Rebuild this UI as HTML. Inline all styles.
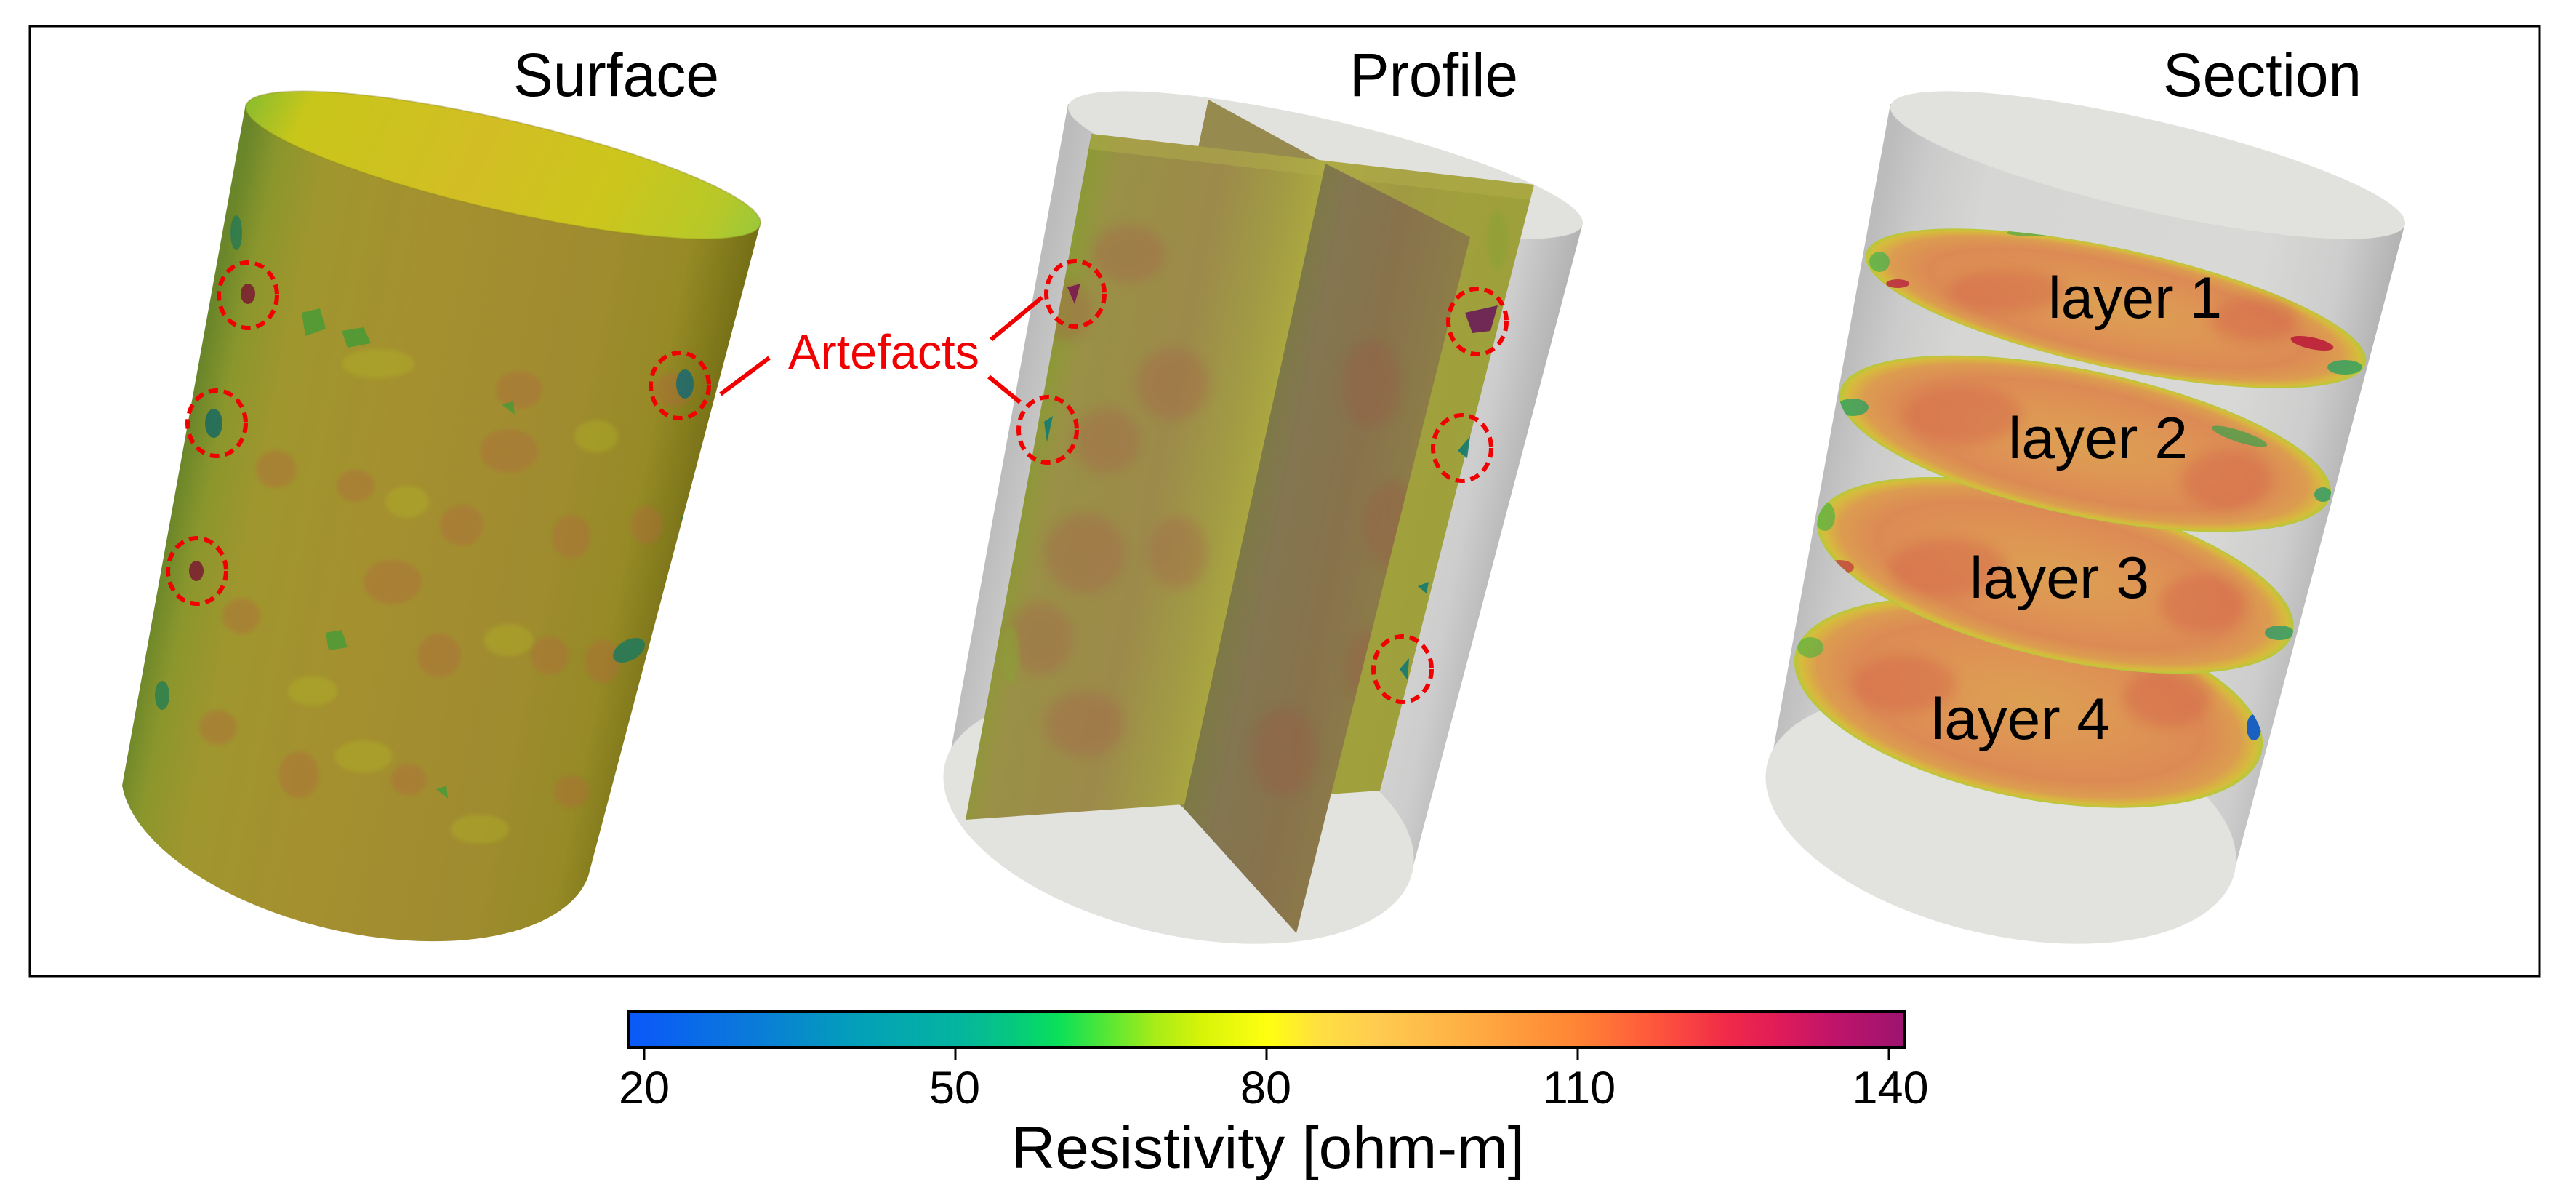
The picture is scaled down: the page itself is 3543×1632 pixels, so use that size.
<!DOCTYPE html>
<html><head><meta charset="utf-8"><style>
html,body{margin:0;padding:0;background:#fff;}
svg{display:block;}
text{font-family:"Liberation Sans",Arial,sans-serif;}
</style></head><body>
<svg width="3543" height="1632" viewBox="0 0 3543 1632" xmlns="http://www.w3.org/2000/svg">
<defs>
  <linearGradient id="gBody" gradientUnits="userSpaceOnUse" x1="246" y1="650" x2="941" y2="793">
    <stop offset="0" stop-color="#6a862a"/>
    <stop offset="0.06" stop-color="#8a962c"/>
    <stop offset="0.16" stop-color="#a0962e"/>
    <stop offset="0.4" stop-color="#a4902f"/>
    <stop offset="0.7" stop-color="#a08c30"/>
    <stop offset="0.88" stop-color="#968a26"/>
    <stop offset="1" stop-color="#767016"/>
  </linearGradient>
  <linearGradient id="gTop" gradientUnits="userSpaceOnUse" x1="338" y1="143" x2="1046" y2="307">
    <stop offset="0" stop-color="#84bc30"/>
    <stop offset="0.12" stop-color="#c8c61a"/>
    <stop offset="0.45" stop-color="#d2be24"/>
    <stop offset="0.7" stop-color="#ccc61c"/>
    <stop offset="0.9" stop-color="#b8c828"/>
    <stop offset="1" stop-color="#98c83c"/>
  </linearGradient>
  <linearGradient id="gGray" gradientUnits="userSpaceOnUse" x1="246" y1="650" x2="941" y2="793">
    <stop offset="0" stop-color="#bcbcbc"/>
    <stop offset="0.08" stop-color="#cbcbcb"/>
    <stop offset="0.2" stop-color="#d6d6d4"/>
    <stop offset="0.75" stop-color="#d8d8d6"/>
    <stop offset="0.9" stop-color="#cdcdcd"/>
    <stop offset="1" stop-color="#b4b4b4"/>
  </linearGradient>
  <linearGradient id="gPlaneA" gradientUnits="userSpaceOnUse" x1="1415" y1="655" x2="2100" y2="796">
    <stop offset="0" stop-color="#8e9838"/>
    <stop offset="0.05" stop-color="#9a9046"/>
    <stop offset="0.25" stop-color="#9c8a4a"/>
    <stop offset="0.38" stop-color="#a29c44"/>
    <stop offset="0.44" stop-color="#aaa640"/>
    <stop offset="0.6" stop-color="#a09a42"/>
    <stop offset="0.73" stop-color="#a0a03c"/>
    <stop offset="1" stop-color="#9ca23a"/>
  </linearGradient>
  <linearGradient id="gPlaneB" gradientUnits="userSpaceOnUse" x1="1415" y1="655" x2="2100" y2="796">
    <stop offset="0.42" stop-color="#7c7a44"/>
    <stop offset="0.5" stop-color="#837650"/>
    <stop offset="0.62" stop-color="#88724c"/>
    <stop offset="0.74" stop-color="#8c7c48"/>
  </linearGradient>
  <radialGradient id="gDisk" cx="0.5" cy="0.5" r="0.5">
    <stop offset="0" stop-color="#dca052"/>
    <stop offset="0.45" stop-color="#de9454"/>
    <stop offset="0.75" stop-color="#dc8a54"/>
    <stop offset="0.9" stop-color="#dc9c50"/>
    <stop offset="0.97" stop-color="#d6bc3c"/>
    <stop offset="1" stop-color="#b6c83a"/>
  </radialGradient>
  <linearGradient id="gBar" x1="0" y1="0" x2="1" y2="0">
    <stop offset="0" stop-color="#0a5af8"/>
    <stop offset="0.013" stop-color="#0a5cf5"/>
    <stop offset="0.10" stop-color="#0a7cd8"/>
    <stop offset="0.18" stop-color="#03a0b8"/>
    <stop offset="0.257" stop-color="#05b4a0"/>
    <stop offset="0.30" stop-color="#05c880"/>
    <stop offset="0.336" stop-color="#08e05a"/>
    <stop offset="0.38" stop-color="#60e830"/>
    <stop offset="0.413" stop-color="#a8ec18"/>
    <stop offset="0.45" stop-color="#d8f408"/>
    <stop offset="0.501" stop-color="#ffff10"/>
    <stop offset="0.54" stop-color="#ffe040"/>
    <stop offset="0.585" stop-color="#ffcc50"/>
    <stop offset="0.654" stop-color="#ffb044"/>
    <stop offset="0.744" stop-color="#ff8434"/>
    <stop offset="0.80" stop-color="#ff5a3c"/>
    <stop offset="0.861" stop-color="#f02a48"/>
    <stop offset="0.90" stop-color="#e01c58"/>
    <stop offset="0.944" stop-color="#c0146a"/>
    <stop offset="1" stop-color="#9c1470"/>
  </linearGradient>
  <filter id="bl" x="-50%" y="-50%" width="200%" height="200%"><feGaussianBlur stdDeviation="8"/></filter>
  <filter id="bl2" x="-50%" y="-50%" width="200%" height="200%"><feGaussianBlur stdDeviation="3"/></filter>
  <clipPath id="cBody"><path d="M338,143 L168,1080 A330,160 13 0 0 809,1205 L1046,307 Z"/></clipPath>
  <clipPath id="cPA"><polygon points="1501,184 2110,254 1898,1087 1328,1127"/></clipPath>
  <clipPath id="cPB"><polygon points="1823,225 2022,326 1783,1283 1628,1111"/></clipPath>
  <clipPath id="cL1"><ellipse cx="2910" cy="424" rx="352" ry="82" transform="rotate(12.3 2910 424)"/></clipPath>
  <clipPath id="cL2"><ellipse cx="2868" cy="610" rx="345" ry="100" transform="rotate(12 2868 610)"/></clipPath>
  <clipPath id="cL3"><ellipse cx="2827" cy="791" rx="336" ry="113" transform="rotate(13.5 2827 791)"/></clipPath>
  <clipPath id="cL4"><ellipse cx="2790" cy="966" rx="328" ry="131" transform="rotate(11.8 2790 966)"/></clipPath>
</defs>

<rect x="0" y="0" width="3543" height="1632" fill="#fff"/>

<!-- ============ SURFACE ============ -->
<g>
  <path d="M338,143 L168,1080 A330,160 13 0 0 809,1205 L1046,307 Z" fill="url(#gBody)"/>
  <g clip-path="url(#cBody)">
    <g fill="#b06a3c" opacity="0.42" filter="url(#bl2)">
      <ellipse cx="714" cy="536" rx="32" ry="26"/>
      <ellipse cx="926" cy="536" rx="26" ry="24"/>
      <ellipse cx="380" cy="645" rx="28" ry="26"/>
      <ellipse cx="489" cy="668" rx="26" ry="22"/>
      <ellipse cx="635" cy="722" rx="30" ry="28"/>
      <ellipse cx="786" cy="738" rx="26" ry="30"/>
      <ellipse cx="889" cy="722" rx="22" ry="26"/>
      <ellipse cx="332" cy="847" rx="26" ry="24"/>
      <ellipse cx="604" cy="901" rx="30" ry="30"/>
      <ellipse cx="756" cy="901" rx="26" ry="26"/>
      <ellipse cx="829" cy="909" rx="24" ry="30"/>
      <ellipse cx="411" cy="1065" rx="28" ry="32"/>
      <ellipse cx="562" cy="1072" rx="24" ry="22"/>
      <ellipse cx="786" cy="1088" rx="24" ry="22"/>
      <ellipse cx="540" cy="800" rx="40" ry="30"/>
      <ellipse cx="700" cy="620" rx="40" ry="30"/>
      <ellipse cx="300" cy="1000" rx="26" ry="24"/>
    </g>
    <g fill="#b8c020" opacity="0.3" filter="url(#bl2)">
      <ellipse cx="560" cy="690" rx="30" ry="22"/>
      <ellipse cx="820" cy="600" rx="30" ry="22"/>
      <ellipse cx="700" cy="880" rx="34" ry="22"/>
      <ellipse cx="500" cy="1040" rx="40" ry="22"/>
      <ellipse cx="660" cy="1140" rx="40" ry="20"/>
      <ellipse cx="430" cy="950" rx="34" ry="20"/>
      <ellipse cx="520" cy="500" rx="50" ry="20"/>
    </g>
    <g fill="#3c9c38" opacity="0.75">
      <polygon points="415,430 440,424 448,452 420,462"/>
      <polygon points="470,455 500,450 510,472 478,478"/>
      <polygon points="448,870 470,866 478,890 452,894"/>
      <polygon points="690,556 706,552 708,570"/>
      <polygon points="600,1085 614,1080 616,1098"/>
    </g>
    <g opacity="0.85">
      <ellipse cx="865" cy="894" rx="24" ry="14" fill="#1f7a5c" transform="rotate(-30 865 894)"/>
      <ellipse cx="944" cy="722" rx="8" ry="18" fill="#2a7a5a"/>
      <ellipse cx="223" cy="956" rx="10" ry="20" fill="#2a8050"/>
      <ellipse cx="942" cy="528" rx="12" ry="20" fill="#186a70"/>
      <ellipse cx="294" cy="582" rx="12" ry="20" fill="#1a6a60"/>
      <ellipse cx="341" cy="404" rx="10" ry="14" fill="#7a1a30"/>
      <ellipse cx="270" cy="785" rx="10" ry="14" fill="#7a1a30"/>
      <ellipse cx="325" cy="320" rx="8" ry="24" fill="#2a7a50"/>
    </g>
  </g>
  <ellipse cx="692" cy="227" rx="363" ry="62" transform="rotate(13 692 227)" fill="url(#gTop)" stroke="#8a8020" stroke-opacity="0.35" stroke-width="2"/>
</g>

<!-- ============ PROFILE ============ -->
<g transform="translate(1131,0)">
  <path d="M338,143 L168,1080 A330,160 13 0 0 809,1205 L1046,307 Z" fill="url(#gGray)"/>
  <ellipse cx="490" cy="1125" rx="330" ry="160" transform="rotate(13 490 1125)" fill="#e2e2df"/>
  <ellipse cx="692" cy="227" rx="363" ry="62" transform="rotate(13 692 227)" fill="#e1e1dd"/>
</g>
<polygon points="1662,137 1823,225 1628,1111 1480,990" fill="#968a4e"/>
<polygon points="1501,184 2110,254 1898,1087 1328,1127" fill="url(#gPlaneA)"/>
<g clip-path="url(#cPA)">
  <g fill="#a8604c" opacity="0.35" filter="url(#bl)">
    <ellipse cx="1553" cy="349" rx="50" ry="40"/>
    <ellipse cx="1462" cy="427" rx="40" ry="40"/>
    <ellipse cx="1613" cy="528" rx="50" ry="50"/>
    <ellipse cx="1522" cy="606" rx="45" ry="45"/>
    <ellipse cx="1492" cy="761" rx="55" ry="55"/>
    <ellipse cx="1431" cy="878" rx="45" ry="50"/>
    <ellipse cx="1492" cy="995" rx="55" ry="45"/>
    <ellipse cx="1620" cy="760" rx="40" ry="50"/>
  </g>
  <polygon points="1501,184 2110,254 2105,275 1498,205" fill="#b2ae4a" opacity="0.5"/>
  <g fill="#8ca038" opacity="0.6" filter="url(#bl2)">
    <ellipse cx="1390" cy="900" rx="12" ry="40"/>
    <ellipse cx="1470" cy="300" rx="12" ry="40"/>
    <ellipse cx="2060" cy="330" rx="14" ry="40"/>
  </g>
</g>
<polygon points="1823,225 2022,326 1783,1283 1628,1111" fill="url(#gPlaneB)"/>
<g clip-path="url(#cPB)">
  <g fill="#9a5a46" opacity="0.35" filter="url(#bl)">
    <ellipse cx="1886" cy="528" rx="40" ry="60"/>
    <ellipse cx="1916" cy="722" rx="40" ry="60"/>
    <ellipse cx="1765" cy="1034" rx="45" ry="60"/>
    <ellipse cx="1886" cy="917" rx="35" ry="50"/>
  </g>
</g>
<g opacity="0.9">
  <polygon points="1468,395 1486,390 1478,418" fill="#7a1a50"/>
  <polygon points="1436,580 1448,572 1440,608" fill="#137a70"/>
  <polygon points="2015,430 2060,420 2050,455 2025,458" fill="#6a1c58"/>
  <polygon points="2005,620 2022,600 2018,630" fill="#137a70"/>
  <polygon points="1925,920 1938,905 1936,935" fill="#137a70"/>
  <polygon points="1950,806 1965,800 1962,816" fill="#137a70"/>
</g>

<!-- ============ SECTION ============ -->
<g transform="translate(2262,0)">
  <path d="M338,143 L168,1080 A330,160 13 0 0 809,1205 L1046,307 Z" fill="url(#gGray)"/>
  <ellipse cx="490" cy="1125" rx="330" ry="160" transform="rotate(13 490 1125)" fill="#e2e2df"/>
  <ellipse cx="692" cy="227" rx="363" ry="62" transform="rotate(13 692 227)" fill="#e1e1dd"/>
</g>

<ellipse cx="2790" cy="966" rx="328" ry="131" transform="rotate(11.8 2790 966)" fill="url(#gDisk)"/>
<g clip-path="url(#cL4)">
  <g fill="#d2584a" opacity="0.35" filter="url(#bl)">
    <ellipse cx="2620" cy="940" rx="70" ry="40"/>
    <ellipse cx="2980" cy="960" rx="60" ry="40"/>
  </g>
  <ellipse cx="3100" cy="1000" rx="10" ry="18" fill="#1a60c0"/>
  <ellipse cx="3095" cy="950" rx="20" ry="12" fill="#3aa04a" opacity="0.7"/>
  <ellipse cx="2490" cy="890" rx="18" ry="14" fill="#5ab040" opacity="0.7"/>
</g>
<ellipse cx="2827" cy="791" rx="336" ry="113" transform="rotate(13.5 2827 791)" fill="url(#gDisk)"/>
<g clip-path="url(#cL3)">
  <g fill="#d2584a" opacity="0.35" filter="url(#bl)">
    <ellipse cx="2680" cy="780" rx="80" ry="40"/>
    <ellipse cx="3030" cy="830" rx="60" ry="40"/>
  </g>
  <ellipse cx="2530" cy="780" rx="20" ry="10" fill="#c03040" opacity="0.7"/>
  <ellipse cx="3135" cy="870" rx="20" ry="10" fill="#2a9a6a" opacity="0.8"/>
  <ellipse cx="3070" cy="740" rx="30" ry="8" fill="#3aa04a" opacity="0.7"/>
  <ellipse cx="2510" cy="710" rx="14" ry="20" fill="#50b040" opacity="0.7"/>
</g>
<ellipse cx="2868" cy="610" rx="345" ry="100" transform="rotate(12 2868 610)" fill="url(#gDisk)"/>
<g clip-path="url(#cL2)">
  <g fill="#d2584a" opacity="0.35" filter="url(#bl)">
    <ellipse cx="2700" cy="570" rx="80" ry="40"/>
    <ellipse cx="3060" cy="660" rx="60" ry="40"/>
  </g>
  <ellipse cx="2548" cy="560" rx="22" ry="12" fill="#30a060" opacity="0.8"/>
  <ellipse cx="3080" cy="600" rx="40" ry="8" fill="#3aa04a" opacity="0.7" transform="rotate(18 3080 600)"/>
  <ellipse cx="3195" cy="680" rx="12" ry="10" fill="#2a9a6a" opacity="0.8"/>
</g>
<ellipse cx="2910" cy="424" rx="352" ry="82" transform="rotate(12.3 2910 424)" fill="url(#gDisk)"/>
<g clip-path="url(#cL1)">
  <g fill="#d2584a" opacity="0.35" filter="url(#bl)">
    <ellipse cx="2760" cy="400" rx="80" ry="30"/>
    <ellipse cx="3100" cy="440" rx="60" ry="30"/>
  </g>
  <ellipse cx="3180" cy="472" rx="30" ry="8" fill="#b81838" opacity="0.85" transform="rotate(12 3180 472)"/>
  <ellipse cx="2610" cy="390" rx="16" ry="6" fill="#b82040" opacity="0.8"/>
  <ellipse cx="2585" cy="360" rx="14" ry="14" fill="#40b050" opacity="0.7"/>
  <ellipse cx="3225" cy="505" rx="24" ry="10" fill="#2aa060" opacity="0.8"/>
  <ellipse cx="2800" cy="320" rx="40" ry="5" fill="#3aa04a" opacity="0.6"/>
</g>

<g fill="#000" font-size="81">
  <text x="2817" y="437" textLength="239" lengthAdjust="spacingAndGlyphs">layer 1</text>
  <text x="2762" y="630" textLength="247" lengthAdjust="spacingAndGlyphs">layer 2</text>
  <text x="2709" y="822" textLength="247" lengthAdjust="spacingAndGlyphs">layer 3</text>
  <text x="2656" y="1016" textLength="246" lengthAdjust="spacingAndGlyphs">layer 4</text>
</g>

<!-- Titles -->
<g fill="#000" font-size="84">
  <text x="706" y="132" textLength="283" lengthAdjust="spacingAndGlyphs">Surface</text>
  <text x="1856" y="132" textLength="232" lengthAdjust="spacingAndGlyphs">Profile</text>
  <text x="2975" y="132" textLength="273" lengthAdjust="spacingAndGlyphs">Section</text>
</g>

<!-- Annotations -->
<g fill="none" stroke="#f00000" stroke-width="6" stroke-dasharray="13 8">
  <ellipse cx="341" cy="406" rx="40" ry="45"/>
  <ellipse cx="298" cy="582" rx="40" ry="45"/>
  <ellipse cx="271" cy="785" rx="40" ry="45"/>
  <ellipse cx="935" cy="530" rx="40" ry="45"/>
  <ellipse cx="1479" cy="404" rx="40" ry="45"/>
  <ellipse cx="1441" cy="591" rx="40" ry="45"/>
  <ellipse cx="2032" cy="442" rx="40" ry="45"/>
  <ellipse cx="2011" cy="616" rx="40" ry="45"/>
  <ellipse cx="1929" cy="920" rx="40" ry="45"/>
</g>
<g stroke="#f00000" stroke-width="6">
  <line x1="1058" y1="492" x2="991" y2="542"/>
  <line x1="1363" y1="467" x2="1433" y2="409"/>
  <line x1="1360" y1="518" x2="1403" y2="553"/>
</g>
<text x="1084" y="507" font-size="67" fill="#f00000" textLength="263" lengthAdjust="spacingAndGlyphs">Artefacts</text>

<!-- Frame -->
<rect x="41" y="36" width="3452" height="1306" fill="none" stroke="#000" stroke-width="3"/>

<!-- Colorbar -->
<rect x="865" y="1391" width="1754" height="49" fill="url(#gBar)" stroke="#000" stroke-width="4"/>
<g stroke="#000" stroke-width="3">
  <line x1="886" y1="1442" x2="886" y2="1458"/>
  <line x1="1314" y1="1442" x2="1314" y2="1458"/>
  <line x1="1742" y1="1442" x2="1742" y2="1458"/>
  <line x1="2170" y1="1442" x2="2170" y2="1458"/>
  <line x1="2598" y1="1442" x2="2598" y2="1458"/>
</g>
<g fill="#000" font-size="63" text-anchor="middle">
  <text x="886" y="1517">20</text>
  <text x="1313" y="1517">50</text>
  <text x="1741" y="1517">80</text>
  <text x="2172" y="1517">110</text>
  <text x="2600" y="1517">140</text>
</g>
<text x="1391" y="1606" font-size="82" fill="#000" textLength="706" lengthAdjust="spacingAndGlyphs">Resistivity [ohm-m]</text>
</svg>
</body></html>
